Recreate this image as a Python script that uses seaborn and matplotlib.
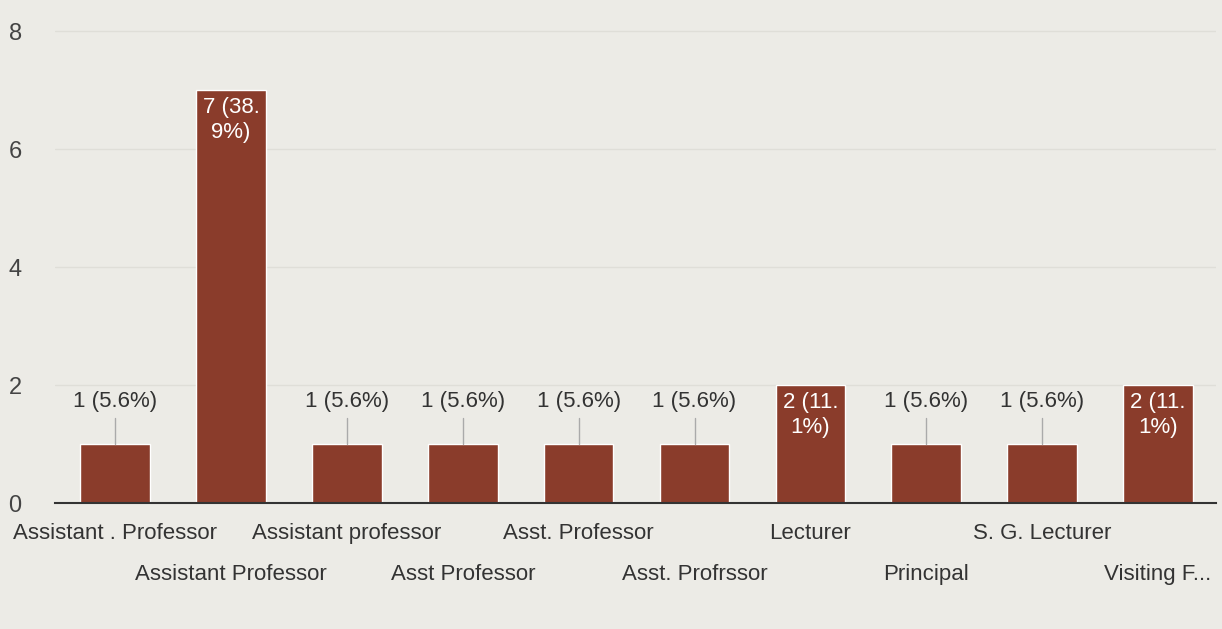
import matplotlib
matplotlib.use("Agg")
import matplotlib.pyplot as plt
import seaborn as sns
import pandas as pd

# Du lieu doc tu bieu do
categories = ["Assistant . Professor", "Assistant Professor", "Assistant professor",
              "Asst Professor", "Asst. Professor", "Asst. Profrssor", "Lecturer",
              "Principal", "S. G. Lecturer", "Visiting F..."]
counts = [1, 7, 1, 1, 1, 1, 2, 1, 1, 2]
pct_labels = ["1 (5.6%)", "7 (38.\n9%)", "1 (5.6%)", "1 (5.6%)", "1 (5.6%)",
              "1 (5.6%)", "2 (11.\n1%)", "1 (5.6%)", "1 (5.6%)", "2 (11.\n1%)"]

bg = "#ecebe6"
bar_color = "#8a3c2b"

sns.set_theme(style="white")
plt.rcParams["font.family"] = ["Liberation Sans Narrow", "Liberation Sans", "DejaVu Sans"]

df = pd.DataFrame({"role": categories, "count": counts})

fig, ax = plt.subplots(figsize=(12.22, 6.29), dpi=100)
fig.patch.set_facecolor(bg)
ax.set_facecolor(bg)

sns.barplot(data=df, x="role", y="count", color=bar_color, width=0.6,
            saturation=1, ax=ax)

ax.set_ylim(0, 8.1)
ax.set_xlim(-0.52, 9.5)
ax.set_yticks([0, 2, 4, 6, 8])
ax.yaxis.grid(True, color="#dfded8", linewidth=1)
ax.set_axisbelow(True)
for s in ["top", "right", "left"]:
    ax.spines[s].set_visible(False)
ax.spines["bottom"].set_color("#333333")
ax.spines["bottom"].set_linewidth(1.5)

# nhan truc x xen ke hai hang
ax.set_xticks(range(len(categories)))
ax.set_xticklabels(categories, fontsize=16, color="#333333")
ax.tick_params(axis="x", length=0)
for i, t in enumerate(ax.xaxis.get_major_ticks()):
    t.set_pad(14 if i % 2 == 0 else 44)
ax.tick_params(axis="y", length=0, labelsize=17, labelcolor="#444444", pad=24)
ax.set_xlabel("")
ax.set_ylabel("")

for i, (v, lab) in enumerate(zip(counts, pct_labels)):
    if v >= 2:
        ax.text(i, v - 0.12, lab, ha="center", va="top", color="white",
                fontsize=16, linespacing=1.25)
    else:
        ax.plot([i, i], [v, v + 0.45], color="#aaaaaa", linewidth=1)
        ax.text(i, v + 0.55, lab, ha="center", va="bottom", color="#333333",
                fontsize=16)

plt.subplots_adjust(left=0.045, right=0.995, top=0.96, bottom=0.2)
plt.savefig("out.png", dpi=100, facecolor=bg)
